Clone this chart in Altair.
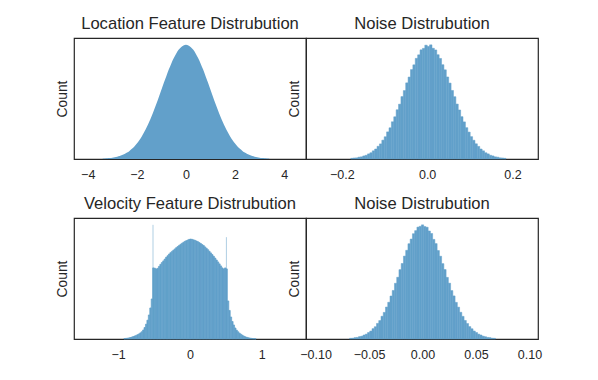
import altair as alt
import pandas as pd

# ---------------- data ----------------
# Location feature histogram: bins of width 0.1, first bin starts at -3.45
loc_start, loc_width = -3.45, 0.1
loc_counts = [0.3, 0.4, 0.6, 0.8, 1.1, 1.5, 2.0, 2.6, 3.4, 4.4, 5.6, 7.1, 8.9, 11.0, 13.5, 16.4,
              19.8, 23.6, 27.8, 32.5, 37.5, 43.0, 48.7, 54.6, 60.7, 66.7, 72.6, 78.3, 83.5, 88.2,
              92.3, 95.6, 98.0, 99.5, 100.0, 99.5, 98.0, 95.6, 92.3, 88.2, 83.5, 78.3, 72.6, 66.7,
              60.7, 54.6, 48.7, 43.0, 37.5, 32.5, 27.8, 23.6, 19.8, 16.4, 13.5, 11.0, 8.9, 7.1,
              5.6, 4.4, 3.4, 2.6, 2.0, 1.5, 1.1, 0.8, 0.6, 0.4, 0.3]

# Noise (top) histogram
noise1_start, noise1_width = -0.179, 0.0056
noise1_counts = [0.6, 0.9, 1.0, 1.6, 1.9, 2.7, 3.3, 4.5, 5.5, 7.2, 8.8, 11.2, 13.3, 16.6, 19.6, 23.9,
                 27.5, 32.8, 37.2, 43.4, 48.3, 55.0, 60.3, 67.1, 72.2, 78.8, 83.0, 88.7, 91.8, 96.2,
                 97.5, 100.3, 99.2, 100.6, 97.6, 96.1, 91.9, 88.6, 83.1, 78.6, 72.3, 66.9, 60.4,
                 54.9, 48.4, 43.2, 37.3, 32.7, 27.6, 23.7, 19.7, 16.5, 13.4, 11.1, 8.8, 7.2, 5.5,
                 4.5, 3.3, 2.7, 1.9, 1.6, 1.0, 0.9, 0.6]

# Velocity feature histogram: bins of width 0.02 from -0.92 to 0.92
vel_start, vel_width = -0.92, 0.02
vel_counts = [0.4, 0.6, 0.8, 1.1, 1.5, 1.9, 2.4, 3.0, 3.6, 4.3, 5.1, 6.1, 7.3, 9.0, 11.5, 14.8,
              18.8, 24.0, 31.0, 40.0,
              71.0,
              70.7, 70.0, 70.5, 72.5, 74.5, 76.3, 78.0, 79.8, 81.7, 83.2, 84.8, 86.2, 87.5, 88.7,
              90.0, 91.2, 92.4, 93.5, 94.6, 95.6, 96.6, 97.5, 98.2, 98.9, 99.5,
              99.8, 99.5, 99.0, 98.5, 97.9, 97.2, 96.3, 95.3, 94.3, 93.3, 92.0, 90.6, 89.2, 87.6,
              86.0, 84.3, 82.6, 80.8, 78.9, 77.0, 75.0, 73.0, 71.0, 70.0, 71.0,
              70.0,
              38.0, 28.5, 22.0, 17.5, 14.0, 11.0, 8.8, 7.2, 5.8, 4.7, 3.8, 2.9, 2.2, 1.7, 1.3,
              1.0, 0.7, 0.5, 0.35, 0.25]
vel_spike_x = [-0.515, 0.507]
vel_spike_counts = [114.0, 101.7]

# Noise (bottom) histogram
noise2_start, noise2_width = -0.06825, 0.0021
noise2_counts = [0.6, 0.7, 1.2, 1.4, 2.1, 2.5, 3.5, 4.3, 5.7, 7.0, 9.1, 10.8, 13.7, 16.2, 20.0, 23.4,
                 28.1, 32.3, 37.8, 42.7, 49.0, 54.3, 61.0, 66.4, 72.9, 78.0, 83.8, 87.9, 92.6, 95.3,
                 98.4, 99.1, 100.4, 98.9, 98.3, 95.0, 92.8, 87.6, 83.9, 77.8, 72.8, 66.3, 61.1,
                 54.2, 49.1, 42.6, 37.9, 32.2, 28.0, 23.5, 19.9, 16.3, 13.6, 10.9, 9.0, 7.0, 5.7,
                 4.3, 3.5, 2.5, 2.0, 1.4, 1.2, 0.7, 0.6]

titles = ["Location Feature Distrubution", "Noise Distrubution",
          "Velocity Feature Distrubution", "Noise Distrubution"]
x_domains = [[-4.56, 4.89], [-0.284, 0.260], [-1.615, 1.615], [-0.109, 0.108]]
x_ticks = [[-4, -2, 0, 2, 4], [-0.2, 0.0, 0.2], [-1, 0, 1], [-0.10, -0.05, 0.0, 0.05, 0.10]]
x_formats = ["d", ".1f", "d", ".2f"]
bar_strokes = [0.9, 0.5, 0.7, 0.5]

BAR = "#62a0ca"
INK = "#262626"
FONT = "Liberation Sans"
W, H = 232, 121


def hist_df(start, width, counts):
    return pd.DataFrame({
        "lo": [start + i * width for i in range(len(counts))],
        "hi": [start + (i + 1) * width for i in range(len(counts))],
        "mid": [start + (i + 0.5) * width for i in range(len(counts))],
        "count": counts,
    })


def panel(df, idx, spikes=None, smooth=False):
    ymax = df["count"].max()
    if spikes is not None:
        ymax = max(ymax, spikes["count"].max())
    xs = alt.Scale(domain=x_domains[idx], nice=False, zero=False)
    ys = alt.Scale(domain=[0, ymax * 1.06], nice=False, zero=True)
    fmt = x_formats[idx]
    xaxis = alt.Axis(values=x_ticks[idx], title=None, grid=False, ticks=False, domain=False,
                     labelExpr=f"replace(format(datum.value, '{fmt}'), '-', '\u2212')",
                     labelPadding=9.5, labelFontSize=12.5, labelFont=FONT, labelColor=INK,
                     labelOverlap=False, labelFlush=False)
    yaxis = alt.Axis(title="Count", labels=False, ticks=False, grid=False, domain=False,
                     titleFontSize=13.8, titleFont=FONT, titleColor=INK,
                     titleFontWeight="normal", titlePadding=5)
    if smooth:
        bars = alt.Chart(df).mark_area(color=BAR, interpolate="monotone").encode(
            x=alt.X("mid:Q", scale=xs, axis=xaxis),
            y=alt.Y("count:Q", scale=ys, axis=yaxis),
        )
    else:
        bars = alt.Chart(df).mark_bar(color=BAR, stroke=BAR,
                                      strokeWidth=bar_strokes[idx]).encode(
            x=alt.X("lo:Q", scale=xs, axis=xaxis),
            x2="hi:Q",
            y=alt.Y("count:Q", scale=ys, axis=yaxis),
            y2=alt.datum(0),
        )
    ch = bars
    if spikes is not None:
        rule = alt.Chart(spikes).mark_rule(color=BAR, strokeWidth=1, opacity=0.5).encode(
            x=alt.X("x:Q", scale=xs),
            y=alt.Y("count:Q", scale=ys),
            y2=alt.datum(0),
        )
        ch = alt.layer(bars, rule)
    return ch.properties(
        width=W, height=H,
        title=alt.TitleParams(titles[idx], fontSize=16.6, font=FONT, color=INK,
                              fontWeight="normal", offset=5.5, anchor="middle"),
    )


pA = panel(hist_df(loc_start, loc_width, loc_counts), 0, smooth=True)
pB = panel(hist_df(noise1_start, noise1_width, noise1_counts), 1)
pC = panel(hist_df(vel_start, vel_width, vel_counts), 2,
           spikes=pd.DataFrame({"x": vel_spike_x, "count": vel_spike_counts}))
pD = panel(hist_df(noise2_start, noise2_width, noise2_counts), 3)

chart = alt.ConcatChart(
    concat=[pA, pB, pC, pD], columns=2,
    spacing=alt.RowColnumber(row=59, column=0), bounds="flush",
).configure_view(
    stroke=INK, strokeWidth=1.2
).properties(
    padding={"left": 46, "top": 7, "right": 5, "bottom": 5},
    background="white",
)

chart.save("out.html", embed_options={"renderer": "svg", "actions": False})
